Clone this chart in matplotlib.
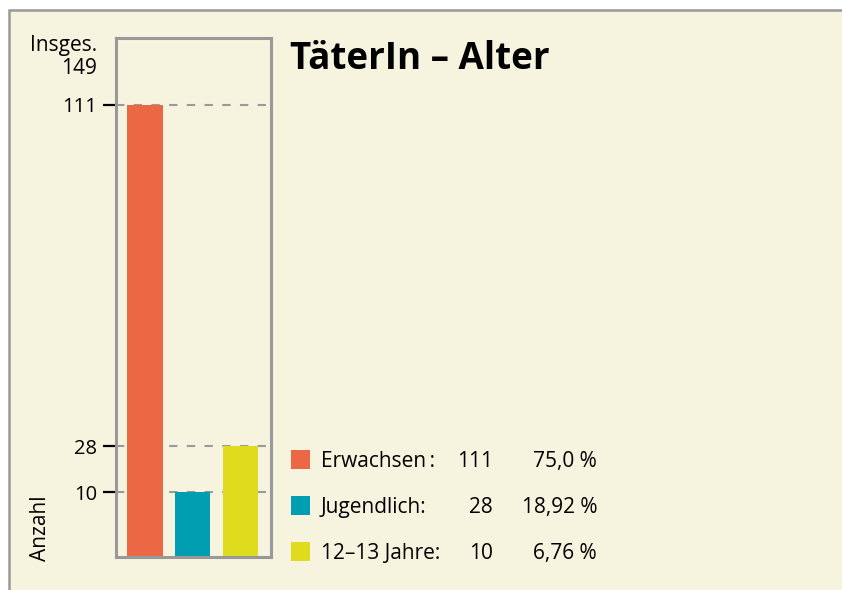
import numpy as np
import matplotlib
matplotlib.use("Agg")
import matplotlib.pyplot as plt
from matplotlib.patches import Rectangle

plt.rcParams['font.family'] = ['Open Sans', 'DejaVu Sans']

# data as shown in the picture
bar_values = [111, 10, 28]
bar_colors = ['#EC6845', '#009EB0', '#DFDC1E']
tick_values = [10, 28, 111]
total = 149

legend_names = ['Erwachsen\u2009:', 'Jugendlich:', '12–13 Jahre:']
legend_counts = ['111', '28', '10']
legend_pcts = ['75,0 %', '18,92 %', '6,76 %']
legend_colors = ['#EC6845', '#009EB0', '#DFDC1E']

# the chart is not drawn to scale; map values piecewise like the original
scale_vals = [0, 10, 28, 111, 149]
scale_pos = [0, 65, 111, 452, 519]


def fwd(v):
    return np.interp(v, scale_vals, scale_pos)


def inv(p):
    return np.interp(p, scale_pos, scale_vals)


W, H = 842, 590
bg = '#F6F4DE'
fig = plt.figure(figsize=(W / 100, H / 100), dpi=100)
fig.patch.set_facecolor('white')

# cream panel with grey border on the left and top
panel = Rectangle((9 / W, -0.1), 1.0, 1 - 10 / H + 0.1, transform=fig.transFigure,
                  facecolor=bg, edgecolor='#999999', linewidth=1.8, zorder=0)
fig.add_artist(panel)

ax = fig.add_axes([116 / W, 33 / H, 155 / W, 519 / H])
ax.set_facecolor(bg)
ax.set_yscale('function', functions=(fwd, inv))
ax.set_ylim(0, total)
ax.set_xlim(-0.61, 2.64)

x = np.arange(len(bar_values))
ax.bar(x, bar_values, width=0.74, color=bar_colors, zorder=2)

for t in tick_values:
    ax.axhline(t, color='#9a9a9a', linestyle=(0, (4, 4.5)), linewidth=1.5, zorder=1)

ax.set_xticks([])
ax.set_yticks(tick_values)
ax.set_yticklabels([str(t) for t in tick_values], fontsize=14.5)
ax.tick_params(axis='y', length=9.5, width=1.6, color='black', pad=4)
ax.yaxis.set_minor_locator(matplotlib.ticker.NullLocator())
for s in ax.spines.values():
    s.set_color('#999999')
    s.set_linewidth(2.2)

fig.text(97 / W, 1 - 74 / H, 'Insges.\n' + str(total), ha='right', va='baseline',
         multialignment='right', fontsize=15, linespacing=1.12)
fig.text(40 / W, 1 - 561 / H, 'Anzahl', rotation=90, ha='center', va='bottom', fontsize=15)

fig.text(290 / W, 1 - 69 / H, 'TäterIn – Alter', fontsize=26.5, fontweight='bold',
         ha='left', va='baseline')

row_y = [467, 513, 559]
sq_y = [459, 505.5, 551]
for i in range(len(legend_names)):
    y = 1 - row_y[i] / H
    fig.add_artist(Rectangle((291 / W, 1 - (sq_y[i] + 9.5) / H), 19 / W, 19 / H,
                             transform=fig.transFigure,
                             facecolor=legend_colors[i], edgecolor='none'))
    fig.text(321 / W, y, legend_names[i], ha='left', va='baseline', fontsize=15)
    fig.text(493 / W, y, legend_counts[i], ha='right', va='baseline', fontsize=15)
    fig.text(597 / W, y, legend_pcts[i], ha='right', va='baseline', fontsize=15)

fig.savefig('out.png', dpi=100, facecolor=fig.get_facecolor())
